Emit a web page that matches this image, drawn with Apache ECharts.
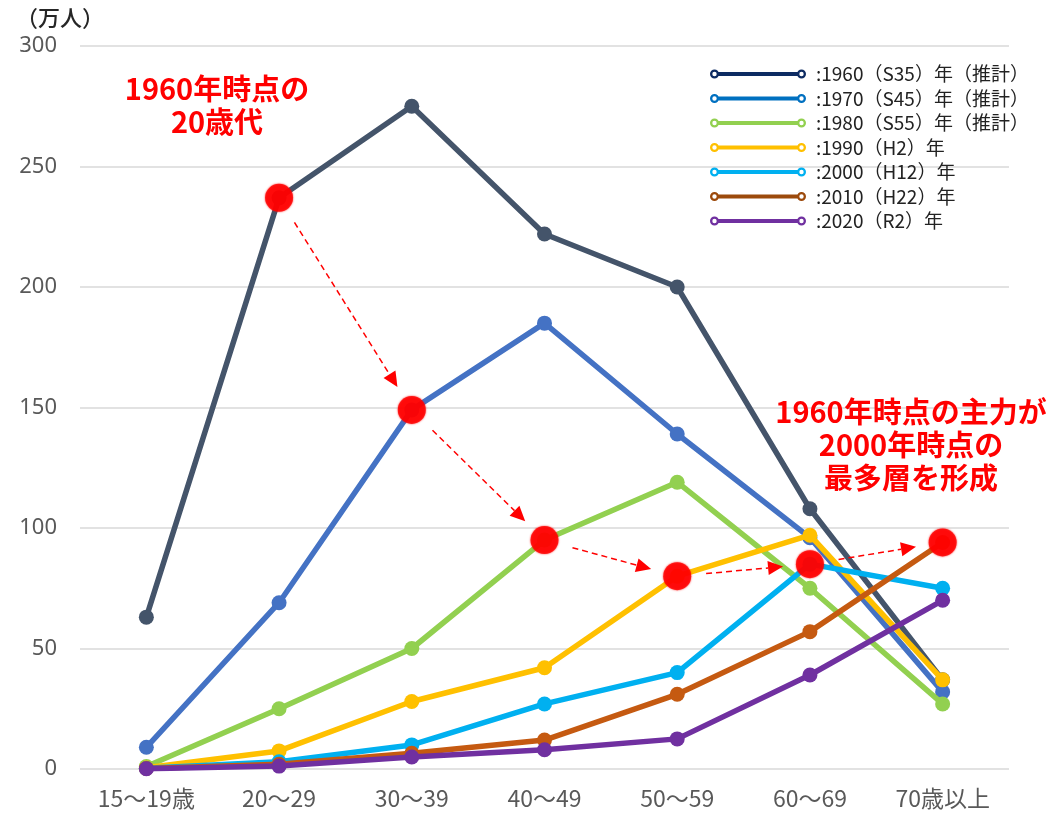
<!DOCTYPE html>
<html>
<head>
<meta charset="utf-8">
<script src="https://cdn.jsdelivr.net/npm/echarts@6/dist/echarts.min.js"></script>
<style>
html,body{margin:0;padding:0;background:#fff;}
#chart{width:1056px;height:822px;}
</style>
</head>
<body>
<div id="chart"></div>
<script>
// ---- data ----
const categories = ['15～19歳', '20～29', '30～39', '40～49', '50～59', '60～69', '70歳以上'];
const yTicks = [0, 50, 100, 150, 200, 250, 300];
const seriesNames = [
  ':1960（S35）年（推計）',
  ':1970（S45）年（推計）',
  ':1980（S55）年（推計）',
  ':1990（H2）年',
  ':2000（H12）年',
  ':2010（H22）年',
  ':2020（R2）年'
];
const s1960 = [63, 237, 275, 222, 200, 108, 37];
const s1970 = [9, 69, 149, 185, 139, 96, 32];
const s1980 = [1, 25, 50, 95, 119, 75, 27];
const s1990 = [0.5, 7.5, 28, 42, 80, 97, 37];
const s2000 = [0.3, 3, 10, 27, 40, 85, 75];
const s2010 = [0.2, 2, 6.5, 12, 31, 57, 94];
const s2020 = [0.1, 1.2, 5, 8, 12.5, 39, 70];
const allSeries = [s1960, s1970, s1980, s1990, s2000, s2010, s2020];
const lineColors = ['#44546A', '#4472C4', '#92D050', '#FFC000', '#00B0F0', '#C55A11', '#7030A0'];
const legendColors = ['#0D2B62', '#0070C0', '#92D050', '#FFC000', '#00B0F0', '#9C4A0C', '#7030A0'];
const unitLabel = '（万人）';
const note1 = '1960年時点の\n20歳代';
const note2 = '1960年時点の主力が\n2000年時点の\n最多層を形成';

// cohort path: series k at category k+1
const cohort = [];
for (let k = 0; k < 6; k++) cohort.push([k + 1, allSeries[k][k + 1]]);
const segments = [];
for (let k = 0; k < cohort.length - 1; k++) segments.push([cohort[k][0], cohort[k][1], cohort[k + 1][0], cohort[k + 1][1]]);

const legendIcon = 'path://M0,4.5A4.5,4.5 0 1,1 9,4.5A4.5,4.5 0 1,1 0,4.5Z M2.3,4.5A2.2,2.2 0 1,0 6.7,4.5A2.2,2.2 0 1,0 2.3,4.5Z ' +
  'M8.5,2.5L87.5,2.5L87.5,6.5L8.5,6.5Z ' +
  'M87,4.5A4.5,4.5 0 1,1 96,4.5A4.5,4.5 0 1,1 87,4.5Z M89.3,4.5A2.2,2.2 0 1,0 93.7,4.5A2.2,2.2 0 1,0 89.3,4.5Z';

const chart = echarts.init(document.getElementById('chart'));

const lineSeries = allSeries.map((arr, i) => ({
  name: seriesNames[i],
  type: 'line',
  data: arr,
  symbol: 'circle',
  symbolSize: 15,
  showSymbol: true,
  lineStyle: { width: 5.5, color: lineColors[i] },
  itemStyle: { color: lineColors[i], borderWidth: 0 },
  emphasis: { disabled: true },
  z: 2 + i
}));

const option = {
  backgroundColor: '#ffffff',
  animation: false,
  textStyle: { fontFamily: "'Noto Sans CJK JP', 'Noto Sans', sans-serif" },
  title: {
    text: unitLabel,
    left: 11,
    top: 2,
    textStyle: { fontSize: 22, fontWeight: 500, color: '#262626', fontFamily: "'Noto Sans CJK JP', sans-serif" }
  },
  grid: { left: 80, right: 47, top: 46, bottom: 53, containLabel: false },
  legend: {
    orient: 'vertical',
    left: 705,
    top: 59,
    itemWidth: 96,
    itemHeight: 9,
    itemGap: 4.5,
    icon: legendIcon,
    selectedMode: false,
    itemStyle: { borderWidth: 0 },
    textStyle: { fontSize: 19, color: '#222', lineHeight: 20, padding: [0, 0, 0, 5], fontFamily: "'Noto Sans CJK JP', sans-serif" },
    data: seriesNames.map((n, i) => ({ name: n, itemStyle: { color: legendColors[i], borderWidth: 0 } }))
  },
  xAxis: {
    type: 'category',
    data: categories,
    boundaryGap: true,
    axisLine: { show: false },
    axisTick: { show: false },
    axisLabel: { color: '#595959', fontSize: 23, margin: 18, interval: 0, fontFamily: "'Noto Sans CJK JP', sans-serif" },
    splitLine: { show: false }
  },
  yAxis: {
    type: 'value',
    min: yTicks[0],
    max: yTicks[yTicks.length - 1],
    interval: yTicks[1] - yTicks[0],
    axisLine: { show: false },
    axisTick: { show: false },
    axisLabel: { color: '#595959', fontSize: 22, margin: 23, fontFamily: "'Noto Sans', sans-serif" },
    splitLine: { show: true, lineStyle: { color: '#d9d9d9', width: 1.5 } }
  },
  graphic: [
    {
      type: 'text', x: 217, y: 72, z: 100,
      style: { text: note1, fill: '#ff0000', font: "bold 29px 'Noto Sans CJK JP', sans-serif", align: 'center', verticalAlign: 'top', lineHeight: 33 }
    },
    {
      type: 'text', x: 911, y: 395, z: 100,
      style: { text: note2, fill: '#ff0000', font: "bold 29px 'Noto Sans CJK JP', sans-serif", align: 'center', verticalAlign: 'top', lineHeight: 33 }
    }
  ],
  series: lineSeries.concat([
    {
      name: 'arrows',
      type: 'custom',
      data: segments,
      encode: { x: [0, 2], y: [1, 3] },
      z: 20,
      silent: true,
      renderItem: function (params, api) {
        const p1 = api.coord([api.value(0), api.value(1)]);
        const p2 = api.coord([api.value(2), api.value(3)]);
        const dx = p2[0] - p1[0], dy = p2[1] - p1[1];
        const len = Math.sqrt(dx * dx + dy * dy);
        const ux = dx / len, uy = dy / len;
        const r1 = 29, r2 = 27, aLen = 15, aW = 7;
        const sx = p1[0] + ux * r1, sy = p1[1] + uy * r1;
        const tx = p2[0] - ux * r2, ty = p2[1] - uy * r2;
        const bx = tx - ux * aLen, by = ty - uy * aLen;
        const nx = -uy, ny = ux;
        return {
          type: 'group',
          children: [
            { type: 'line', shape: { x1: sx, y1: sy, x2: bx, y2: by },
              style: { stroke: '#ff0000', lineWidth: 1.5, lineDash: [6, 4] } },
            { type: 'polygon', shape: { points: [[tx, ty], [bx + nx * aW, by + ny * aW], [bx - nx * aW, by - ny * aW]] },
              style: { fill: '#ff0000' } }
          ]
        };
      }
    },
    {
      name: 'cohort',
      type: 'scatter',
      data: cohort,
      symbol: 'circle',
      symbolSize: 28,
      z: 30,
      silent: true,
      itemStyle: { color: '#ff0000', shadowBlur: 2, shadowColor: 'rgba(255,0,0,1)' }
    }
  ])
};
chart.setOption(option);
</script>
</body>
</html>
